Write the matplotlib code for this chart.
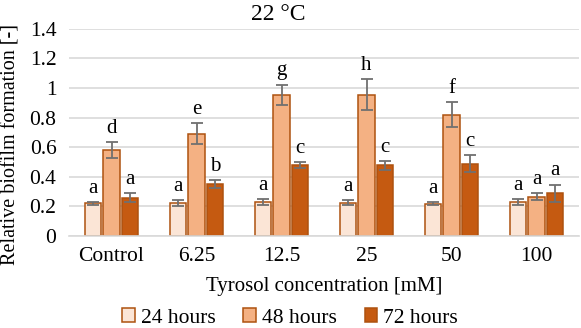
import numpy as np
import matplotlib
matplotlib.use("Agg")
import matplotlib.pyplot as plt

plt.rcParams['font.family'] = ['Liberation Serif', 'DejaVu Serif']

categories = ['Control', '6.25', '12.5', '25', '50', '100']
series = ['24 hours', '48 hours', '72 hours']
values = [
    [0.22, 0.22, 0.23, 0.225, 0.218, 0.228],
    [0.58, 0.69, 0.955, 0.955, 0.818, 0.266],
    [0.26, 0.35, 0.478, 0.478, 0.489, 0.289],
]
errors = [
    [0.01, 0.02, 0.02, 0.015, 0.012, 0.021],
    [0.056, 0.07, 0.068, 0.107, 0.085, 0.023],
    [0.03, 0.026, 0.022, 0.03, 0.057, 0.058],
]
letters = [
    ['a', 'a', 'a', 'a', 'a', 'a'],
    ['d', 'e', 'g', 'h', 'f', 'a'],
    ['a', 'b', 'c', 'c', 'c', 'a'],
]
colors = ['#FBE5D6', '#F4B183', '#C55A11']
edge = '#AE520F'

fig = plt.figure(figsize=(5.81, 3.28), dpi=100)
ax = fig.add_axes([69 / 581, 1 - 236 / 328, 510 / 581, 207.3 / 328])

x = np.arange(len(categories))
width = 0.19
offsets = [-0.215, 0, 0.215]
for i in range(3):
    ax.bar(x + offsets[i], values[i], width, color=colors[i], edgecolor=edge,
           linewidth=1.1, label=series[i], zorder=2)
    ax.errorbar(x + offsets[i], values[i], yerr=errors[i], fmt='none',
                ecolor='#707070', elinewidth=1.3, capsize=4, capthick=1.3, zorder=3)
    for j in range(len(categories)):
        ax.annotate(letters[i][j], (x[j] + offsets[i], values[i][j] + errors[i][j]),
                    xytext=(0, 3), textcoords='offset points', ha='center', va='bottom',
                    fontsize=15)

ax.set_xlim(-0.5, len(categories) - 0.5)
ax.set_ylim(0, 1.4)
ax.set_yticks(np.arange(0, 1.41, 0.2))
ax.set_yticklabels(['0', '0.2', '0.4', '0.6', '0.8', '1', '1.2', '1.4'])
ax.set_xticks(x)
ax.set_xticklabels(categories)
ax.tick_params(length=0, labelsize=15.5, pad=8)
ax.tick_params(axis='y', pad=9)
ax.grid(axis='y', color='#D9D9D9', linewidth=1.2, zorder=0)
ax.set_axisbelow(True)
for s in ['top', 'right', 'left']:
    ax.spines[s].set_visible(False)
ax.spines['bottom'].set_color('#D9D9D9')
ax.spines['bottom'].set_linewidth(1.2)

ax.set_xlabel('Tyrosol concentration [mM]', fontsize=15, labelpad=8)
ax.set_ylabel('Relative biofilm formation [-]', fontsize=14.5)
ax.yaxis.set_label_coords(-48 / 510, 0.44)
fig.text(278 / 581, 1 - 15 / 328, '22 °C', fontsize=17, ha='center', va='center')

ax.legend(loc='center', bbox_to_anchor=(290 / 581, 1 - 318 / 328),
          bbox_transform=fig.transFigure, ncol=3, frameon=False, fontsize=15.5,
          handlelength=0.6, handleheight=0.6, handletextpad=0.25, columnspacing=1.3)

fig.savefig('out.png', dpi=100)
